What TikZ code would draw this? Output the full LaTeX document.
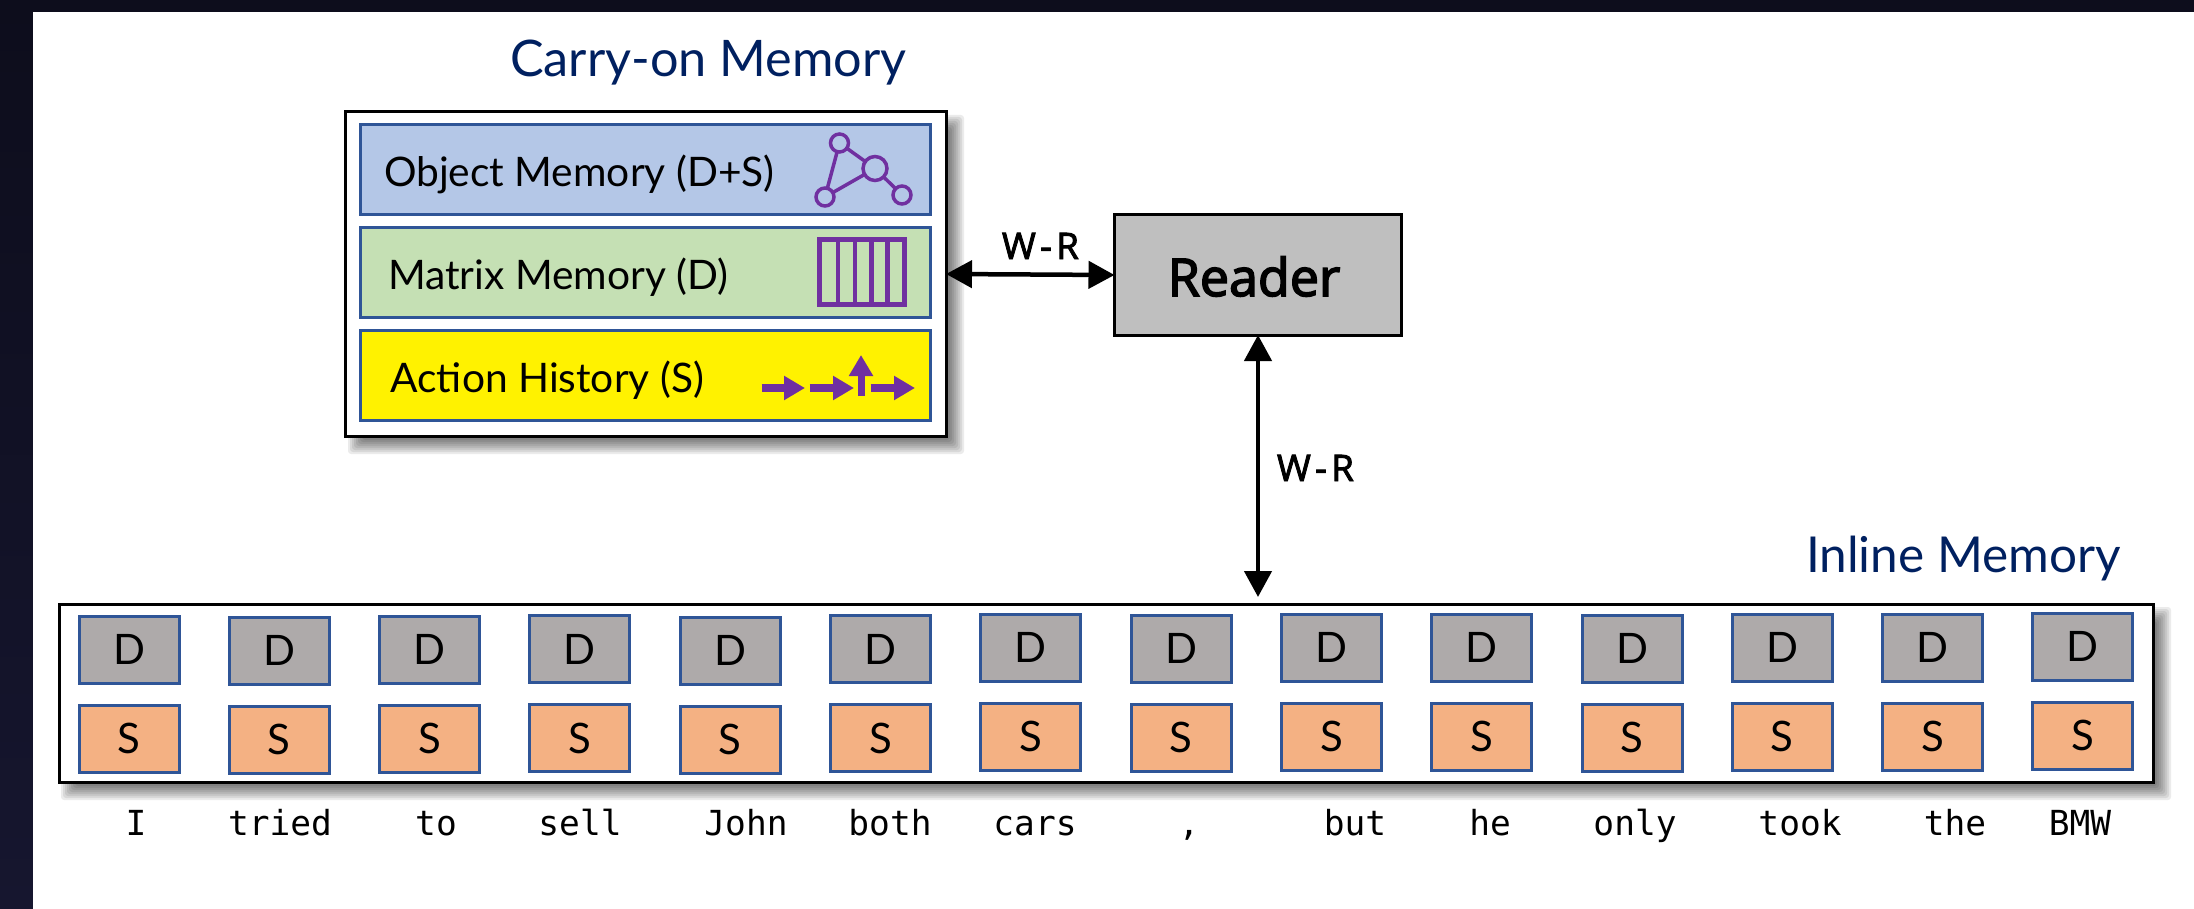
\documentclass[tikz,border=0pt]{standalone}
\usepackage{fontspec}
\usetikzlibrary{arrows.meta,calc}
\setmainfont{Lato}
\newfontfamily\gillf{Lato}
\newfontfamily\rdrf[FakeBold=3]{Open Sans}
\newfontfamily\wrf[FakeBold=2.5,LetterSpace=12]{Open Sans}
\newfontfamily\monof{DejaVu Sans Mono}
\definecolor{bandtop}{HTML}{0D0D1C}
\definecolor{bandbot}{HTML}{16162F}
\definecolor{navy}{HTML}{002060}
\definecolor{edgeblue}{HTML}{2F5597}
\definecolor{purp}{HTML}{7030A0}
\definecolor{objfill}{HTML}{B4C7E7}
\definecolor{matfill}{HTML}{C5E0B4}
\definecolor{dfill}{HTML}{AEAAAA}
\definecolor{sfill}{HTML}{F4B183}
\definecolor{rdfill}{HTML}{BFBFBF}
\tikzset{
  frame/.style={draw=black,fill=white,line width=3pt,rectangle,inner sep=0,outer sep=0},
  rowbox/.style={draw=edgeblue,line width=3pt,rectangle,inner sep=0,outer sep=0,minimum width=570pt,minimum height=90pt},
  cell/.style={draw=edgeblue,line width=3pt,rectangle,inner sep=0,outer sep=0,minimum width=100pt,minimum height=67pt,font=\gillf\fontsize{42}{48}\selectfont,text=black},
  dcell/.style={cell,fill=dfill},
  scell/.style={cell,fill=sfill},
  rowtext/.style={anchor=base west,inner sep=0,outer sep=0,font=\gillf\fontsize{40.7}{48}\selectfont,text=black},
  title/.style={anchor=base west,inner sep=0,outer sep=0,font=\gillf\fontsize{50.4}{60}\selectfont,text=navy},
  wrlabel/.style={anchor=base west,inner sep=0,outer sep=0,font=\wrf\fontsize{36.5}{40}\selectfont,text=black},
  word/.style={anchor=base,inner sep=0,outer sep=0,font=\monof\fontsize{34.5}{38}\selectfont,text=black},
  link/.style={line width=4.5pt,{Triangle[length=26pt,width=27pt]}-{Triangle[length=26pt,width=27pt]}},
  gnode/.style={circle,draw=purp,line width=3.5pt,inner sep=0,outer sep=0},
  gedge/.style={draw=purp,line width=3.5pt},
  iconarrow/.style={draw=purp,line width=8pt,-{Triangle[length=21pt,width=23pt]}},
}
\newcommand{\softshadow}[4]{%
  \foreach \k in {0,...,7}{%
    \pgfmathsetmacro{\grow}{7-2*\k}
    \fill[black,fill opacity=0.08,rounded corners=3pt]
      (#1-\grow,#2-\grow) rectangle (#3+\grow,#4+\grow);
  }%
}
\begin{document}
\begin{tikzpicture}[x=1pt,y=-1pt]
\useasboundingbox (0,0) rectangle (2194,909);
\shade[top color=bandtop,bottom color=bandbot] (0,0) rectangle (2194,909);
\fill[white] (32.5,12.5) rectangle (2194,909);
% titles
\node[title] (carrytitle) at (510,76.5) {Carry-on Memory};
\node[title,font=\gillf\fontsize{49.5}{60}\selectfont] (inlinetitle) at (1806,572) {Inline Memory};
% carry-on memory
\softshadow{355}{122}{957}{447}
\node[frame,minimum width=601pt,minimum height=324pt] (carry) at (645.5,274) {};
\node[rowbox,fill=objfill] (objrow) at (645,169.5) {};
\node[rowbox,fill=matfill] (matrow) at (645,272.5) {};
\node[rowbox,fill=yellow] (actrow) at (645,375.5) {};
\node[rowtext] (objtext) at (384,186.5) {Object Memory (D+S)};
\node[rowtext] (mattext) at (388,289.5) {Matrix Memory (D)};
\node[rowtext] (acttext) at (390.5,392) {Action History (S)};
% graph icon
\node[gnode,minimum size=18pt] (g1) at (839.5,143) {};
\node[gnode,minimum size=24pt] (g2) at (875,168.5) {};
\node[gnode,minimum size=18pt] (g3) at (825,197) {};
\node[gnode,minimum size=18pt] (g4) at (902,195) {};
\draw[gedge] (g1) -- (g2);
\draw[gedge] (g1) -- (g3);
\draw[gedge] (g3) -- (g2);
\draw[gedge] (g2) -- (g4);
% matrix icon
\node[draw=purp,line width=5pt,rectangle,inner sep=0,outer sep=0,minimum width=85pt,minimum height=65pt] (mbox) at (862,272) {};
\foreach \m/\p in {1/0.22,2/0.42,3/0.61,4/0.80}{
  \draw[draw=purp,line width=4.5pt] ($(mbox.north west)!\p!(mbox.north east)$) -- ($(mbox.south west)!\p!(mbox.south east)$);
}
% action icon
\coordinate (a1s) at (761.5,388); \coordinate (a1e) at (805,388);
\coordinate (a2s) at (809.5,388); \coordinate (a2e) at (854,388);
\coordinate (a3s) at (861,396);   \coordinate (a3e) at (861,355);
\coordinate (a4s) at (870.5,388); \coordinate (a4e) at (915,388);
\draw[iconarrow] (a1s) -- (a1e);
\draw[iconarrow] (a2s) -- (a2e);
\draw[iconarrow,line width=7pt] (a3s) -- (a3e);
\draw[iconarrow] (a4s) -- (a4e);
% reader
\node[draw=black,fill=rdfill,line width=3pt,rectangle,inner sep=0,outer sep=0,minimum width=287pt,minimum height=120pt] (reader) at (1258,275) {};
\node[anchor=base,inner sep=0,outer sep=0,font=\rdrf\fontsize{52}{60}\selectfont,text=black] (readertext) at (1254,296) {Reader};
\draw[link] (carry.east) -- (reader.west);
\node[wrlabel] (wr1) at (1002,259) {W-R};
\coordinate (inlineport) at (1258,597);
\draw[link] (reader.south) -- (inlineport);
\node[wrlabel] (wr2) at (1277,481) {W-R};
% inline memory
\softshadow{68}{614}{2164}{793}
\node[frame,minimum width=2094pt,minimum height=177.5pt] (inline) at (1106,693.5) {};
\foreach \i/\t/\wx/\w in {0/615/136/I,1/616/280/tried,2/615/436/to,3/614.5/580/sell,4/616/746/John,5/614.5/890/both,6/613/1035/cars,7/614/1189/{,},8/613/1355/but,9/613/1490/he,10/614/1635/only,11/613/1800/took,12/613/1955/the,13/612/2080/BMW}{
  \pgfmathsetmacro{\cx}{129+150.3*\i}
  \pgfmathsetmacro{\dy}{\t+34.5}
  \pgfmathsetmacro{\sy}{\t+123.5}
  \node[dcell] (D\i) at (\cx,\dy) {D};
  \node[scell] (S\i) at (\cx,\sy) {S};
  \node[word] (W\i) at (\wx,835) {\w};
}
\end{tikzpicture}
\end{document}
